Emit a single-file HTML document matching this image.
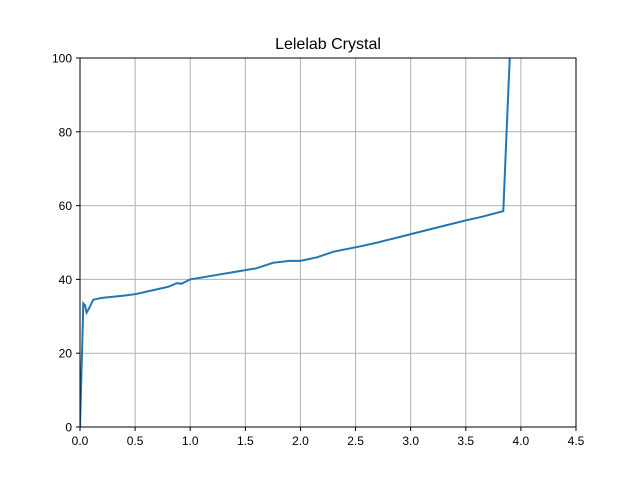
<!DOCTYPE html>
<html><head><meta charset="utf-8"><style>
body{margin:0;background:#fff;}
svg{display:block;font-family:"Liberation Sans","DejaVu Sans",sans-serif;}
</style></head><body>
<svg id="chart" width="640" height="480">
<rect width="640" height="480" fill="#fff"/>
<text x="328" y="49" text-anchor="middle" font-size="16">Lelelab Crystal</text>
<g id="grid"></g>
<defs><clipPath id="clip"><rect x="80" y="58" width="496" height="369"/></clipPath></defs>
<path id="line" fill="none" stroke="#1f77b4" stroke-width="2" clip-path="url(#clip)"/>
<rect x="80" y="58" width="496" height="369" fill="none" stroke="#000" stroke-width="1"/>
<g id="ticks"></g>
</svg>
<script>
const xTicks=[0,0.5,1.0,1.5,2.0,2.5,3.0,3.5,4.0,4.5];
const xTickLabels=["0.0","0.5","1.0","1.5","2.0","2.5","3.0","3.5","4.0","4.5"];
const yTicks=[0,20,40,60,80,100];
const xs=[0,0.02,0.03,0.045,0.06,0.08,0.12,0.2,0.3,0.4,0.5,0.65,0.8,0.88,0.92,1.0,1.2,1.4,1.6,1.75,1.9,2.0,2.15,2.3,2.55,2.7,2.9,3.1,3.3,3.5,3.65,3.84,3.87,3.9];
const ys=[0,22,33.5,33,31,32,34.5,35,35.3,35.6,36,37,38,39,38.8,40,41,42,43,44.5,45,45,46,47.5,49,50,51.5,53,54.5,56,57,58.5,80,101];
const X=v=>80+v/4.5*496, Y=v=>427-v/100*369;
const NS="http://www.w3.org/2000/svg";
const grid=document.getElementById('grid'), ticks=document.getElementById('ticks');
function mk(tag,attrs,parent){const e=document.createElementNS(NS,tag);for(const k in attrs)e.setAttribute(k,attrs[k]);parent.appendChild(e);return e;}
xTicks.forEach((t,i)=>{
  const gl=mk('line',{x1:X(t),x2:X(t),y1:58,y2:427,stroke:'#b0b0b0','stroke-width':1},grid);
  
  
  const tk=mk('line',{x1:X(t),x2:X(t),y1:427,y2:431,stroke:'#000'},ticks);
  
  
  const tx=mk('text',{x:X(t),y:445,'text-anchor':'middle','font-size':12},ticks);
  tx.textContent=xTickLabels[i];
  
  
});
yTicks.forEach(t=>{
  const gl=mk('line',{x1:80,x2:576,y1:Y(t),y2:Y(t),stroke:'#b0b0b0','stroke-width':1},grid);
  
  
  const tk=mk('line',{x1:76,x2:80,y1:Y(t),y2:Y(t),stroke:'#000'},ticks);
  
  
  const tx=mk('text',{x:72,y:Y(t)+4.5,'text-anchor':'end','font-size':12},ticks);
  tx.textContent=String(t);
  
  
});
document.getElementById('line').setAttribute('d',xs.map((v,i)=>(i?'L':'M')+X(v).toFixed(1)+' '+Y(ys[i]).toFixed(1)).join(' '));
</script>
</body></html>
